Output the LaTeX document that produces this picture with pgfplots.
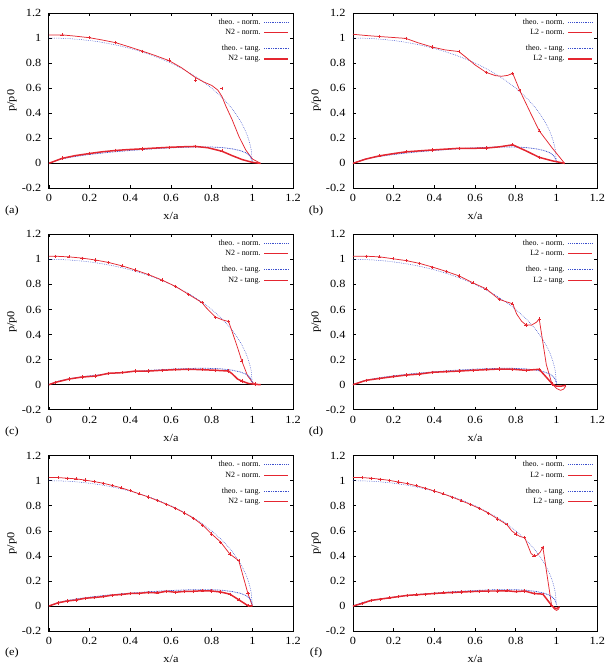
\documentclass[border=0pt]{standalone}
\usepackage{fontspec}
\setmainfont{Liberation Serif}
\newfontfamily\tickfont[FakeStretch=1.12]{Liberation Serif}
\usepackage{pgfplots}
\usepackage{pgfplotstable}
\pgfplotsset{compat=1.18}

\definecolor{simred}{RGB}{228,38,48}
\definecolor{theoblue}{RGB}{60,80,205}

% Hertz normal pressure
\pgfplotstableread{
x y
0 1.000
0.05 0.9987
0.1 0.995
0.15 0.9887
0.2 0.9798
0.25 0.9682
0.3 0.9539
0.35 0.9367
0.4 0.9165
0.45 0.8930
0.5 0.8660
0.55 0.8352
0.6 0.8000
0.65 0.7599
0.7 0.7141
0.75 0.6614
0.8 0.6000
0.85 0.5268
0.88 0.4750
0.9 0.4359
0.92 0.3919
0.94 0.3412
0.96 0.2800
0.97 0.2431
0.98 0.1990
0.99 0.1411
0.995 0.0999
1.0 0.0
}\theonorm

% theoretical tangential traction
\pgfplotstableread{
x y
0 0
0.05 0.030
0.1 0.047
0.15 0.060
0.2 0.071
0.3 0.089
0.4 0.103
0.5 0.115
0.6 0.124
0.7 0.130
0.75 0.131
0.8 0.130
0.85 0.126
0.9 0.116
0.94 0.102
0.97 0.083
0.99 0.055
1.0 0.015
}\theotang

\tikzset{tag/.style={font=\tickfont\fontsize{11}{11}\selectfont}}

\pgfplotsset{
  legend image code/.code={\draw[#1] (0pt,0pt) -- (24pt,0pt);},
  theonorm/.style={theoblue, line width=0.5pt, dash pattern=on 0.7pt off 1.1pt},
  theotang/.style={theoblue, line width=0.75pt, dash pattern=on 0.9pt off 0.8pt},
  simnorm/.style={simred, line width=0.75pt},
  simtang/.style={simred, line width=1.5pt},
  simmark/.style={only marks, mark=+, mark size=1.6pt, simred,
    mark options={line width=0.5pt}},
  zeroline/.style={black, line width=0.6pt},
  panel/.style={
    scale only axis, width=245pt, height=176pt,
    xmin=0, xmax=1.2, ymin=-0.2, ymax=1.2,
    clip mode=individual,
    xtick={0,0.2,0.4,0.6,0.8,1,1.2},
    ytick={-0.2,0,0.2,0.4,0.6,0.8,1,1.2},
    tick align=inside,
    major tick length=3pt,
    axis line style={line width=0.8pt},
    tick style={line width=0.6pt, black},
    /pgf/number format/assume math mode=true,
    ticklabel style={font=\tickfont\fontsize{11}{11}\selectfont},
    xticklabel style={yshift=-2.5pt},
    yticklabel style={xshift=-4pt},
    xlabel={x/a}, ylabel={p/p0},
    label style={font=\tickfont\fontsize{11}{11}\selectfont},
    xlabel style={at={(axis description cs:0.5,-0.159)}, anchor=center},
    ylabel style={at={(axis description cs:-0.151,0.5)}, anchor=center},
    legend style={draw=none, fill=none, at={(axis description cs:0.984,0.972)},
      anchor=north east, inner sep=0pt, row sep=2.5pt,
      font=\fontsize{8}{9}\selectfont,
      nodes={text height=6pt, text depth=2pt, inner sep=0pt, outer sep=0pt},
      /tikz/every odd column/.append style={column sep=3pt}},
    legend cell align=right, legend plot pos=right,
    every axis plot/.append style={forget plot},
  },
}

% legend of one panel; #1 is the method name (N2 or L2)
\newcommand{\panellegend}[1]{%
  \addlegendimage{theonorm}\addlegendentry{theo. - norm.}
  \addlegendimage{simnorm}\addlegendentry{#1 - norm.}
  \addlegendimage{empty legend}\addlegendentry[text height=2pt,text depth=1pt]{}
  \addlegendimage{theotang}\addlegendentry{theo. - tang.}
  \addlegendimage{simtang}\addlegendentry{#1 - tang.}
}

\begin{document}
\begin{tikzpicture}
\path (0pt,0pt) rectangle (609pt,666pt);

% (a) N2, coarse mesh
\begin{axis}[panel, at={(49pt,477pt)}, anchor=south west]
\panellegend{N2}
\addplot[zeroline] coordinates {(0,0) (1.2,0)};
\addplot[theonorm] table {\theonorm};
\addplot[simnorm] coordinates {(0,1.025)(0.065,1.025)(0.13,1.015)(0.197,1.003)(0.26,0.985)(0.328,0.963)(0.39,0.932)(0.46,0.895)(0.52,0.862)(0.59,0.82)(0.65,0.765)(0.72,0.685)(0.76,0.65)(0.8,0.622)(0.83,0.585)(0.85,0.535)(0.87,0.455)(0.9,0.35)(0.935,0.21)(0.968,0.105)(1.0,0.035)(1.04,0)};
\addplot[theotang] table {\theotang};
\addplot[simtang] coordinates {(0,0)(0.065,0.04)(0.13,0.062)(0.197,0.078)(0.26,0.092)(0.328,0.103)(0.39,0.11)(0.46,0.116)(0.52,0.122)(0.59,0.128)(0.65,0.132)(0.72,0.135)(0.78,0.125)(0.85,0.097)(0.9,0.062)(0.95,0.03)(1.0,0.008)(1.04,0)};
\addplot[simmark] coordinates {(0.065,1.025)(0.197,1.003)(0.328,0.965)(0.46,0.895)(0.59,0.825)(0.72,0.665)(0.85,0.6)};
\addplot[simmark] coordinates {(0.065,0.043)(0.197,0.08)(0.328,0.105)(0.46,0.115)(0.59,0.128)(0.72,0.136)(0.85,0.1)};
\node[tag] at (axis description cs:-0.151,-0.125) {(a)};
\end{axis}

% (b) L2, coarse mesh
\begin{axis}[panel, at={(354pt,477pt)}, anchor=south west]
\panellegend{L2}
\addplot[zeroline] coordinates {(0,0) (1.2,0)};
\addplot[theonorm] table {\theonorm};
\addplot[simnorm] coordinates {(0,1.03)(0.065,1.02)(0.13,1.012)(0.2,1.004)(0.26,0.997)(0.32,0.962)(0.39,0.928)(0.45,0.906)(0.52,0.892)(0.56,0.84)(0.6,0.785)(0.655,0.725)(0.7,0.7)(0.73,0.695)(0.76,0.702)(0.785,0.718)(0.82,0.58)(0.87,0.41)(0.915,0.26)(0.98,0.12)(1.04,0)};
\addplot[theotang] table {\theotang};
\addplot[simtang] coordinates {(0,0)(0.065,0.035)(0.13,0.06)(0.2,0.078)(0.26,0.092)(0.33,0.1)(0.39,0.107)(0.45,0.113)(0.52,0.12)(0.59,0.12)(0.655,0.122)(0.72,0.132)(0.785,0.148)(0.85,0.1)(0.915,0.048)(0.98,0.02)(1.04,0)};
\addplot[simmark] coordinates {(0.13,1.012)(0.26,0.997)(0.39,0.928)(0.52,0.892)(0.655,0.725)(0.785,0.718)(0.82,0.58)(0.915,0.26)};
\addplot[simmark] coordinates {(0.13,0.06)(0.26,0.092)(0.39,0.107)(0.52,0.12)(0.655,0.122)(0.785,0.148)(0.915,0.048)};
\node[tag] at (axis description cs:-0.151,-0.125) {(b)};
\end{axis}

% (c) N2, medium mesh
\begin{axis}[panel, at={(49pt,255pt)}, anchor=south west]
\panellegend{N2}
\addplot[zeroline] coordinates {(0,0) (1.2,0)};
\addplot[theonorm] table {\theonorm};
\addplot[simnorm] coordinates {(0,1.025)(0.033,1.025)(0.098,1.02)(0.163,1.01)(0.229,0.995)(0.294,0.975)(0.36,0.948)(0.425,0.915)(0.49,0.878)(0.556,0.835)(0.621,0.785)(0.687,0.72)(0.752,0.655)(0.772,0.616)(0.817,0.541)(0.853,0.517)(0.883,0.504)(0.902,0.416)(0.927,0.296)(0.948,0.189)(0.976,0.072)(1.0,0.019)(1.013,0.005)(1.04,0)};
\addplot[theotang] table {\theotang};
\addplot[simtang] coordinates {(0,0)(0.033,0.019)(0.098,0.045)(0.163,0.061)(0.229,0.069)(0.294,0.091)(0.36,0.096)(0.425,0.109)(0.49,0.109)(0.556,0.115)(0.621,0.12)(0.687,0.123)(0.752,0.12)(0.817,0.115)(0.883,0.109)(0.902,0.085)(0.927,0.045)(0.948,0.029)(0.98,0.01)(1.013,0.003)(1.04,0)};
\addplot[simmark] coordinates {(0.033,1.025)(0.098,1.02)(0.163,1.01)(0.229,0.995)(0.294,0.975)(0.36,0.948)(0.425,0.915)(0.49,0.878)(0.556,0.835)(0.621,0.785)(0.687,0.72)(0.752,0.655)(0.817,0.535)(0.883,0.507)(0.948,0.189)(1.013,0.005)};
\addplot[simmark] coordinates {(0.033,0.019)(0.098,0.045)(0.163,0.061)(0.229,0.069)(0.294,0.091)(0.36,0.096)(0.425,0.109)(0.49,0.109)(0.556,0.115)(0.621,0.12)(0.687,0.123)(0.752,0.12)(0.817,0.115)(0.883,0.109)(0.948,0.029)(1.013,0.003)};
\node[tag] at (axis description cs:-0.151,-0.125) {(c)};
\end{axis}

% (d) L2, medium mesh
\begin{axis}[panel, at={(354pt,255pt)}, anchor=south west]
\panellegend{L2}
\addplot[zeroline] coordinates {(0,0) (1.2,0)};
\addplot[theonorm] table {\theonorm};
\addplot[simnorm] coordinates {(0,1.025)(0.065,1.025)(0.131,1.02)(0.196,1.005)(0.262,0.99)(0.327,0.968)(0.392,0.938)(0.458,0.904)(0.523,0.867)(0.589,0.813)(0.654,0.765)(0.719,0.68)(0.785,0.645)(0.804,0.565)(0.828,0.507)(0.85,0.477)(0.877,0.475)(0.902,0.499)(0.915,0.525)(0.95,0.16)(0.977,0.01)(1.0,-0.03)(1.02,-0.045)(1.035,-0.035)(1.046,-0.01)};
\addplot[theotang] table {\theotang};
\addplot[simtang] coordinates {(0,0)(0.065,0.035)(0.131,0.05)(0.196,0.064)(0.262,0.077)(0.327,0.085)(0.392,0.099)(0.458,0.104)(0.523,0.109)(0.589,0.115)(0.654,0.12)(0.719,0.125)(0.785,0.123)(0.85,0.115)(0.915,0.123)(0.95,0.06)(0.98,0.005)(1.0,-0.012)(1.02,-0.012)(1.046,-0.005)};
\addplot[simmark] coordinates {(0.065,1.025)(0.131,1.02)(0.196,1.005)(0.262,0.99)(0.327,0.968)(0.392,0.938)(0.458,0.904)(0.523,0.867)(0.589,0.813)(0.654,0.765)(0.719,0.68)(0.785,0.645)(0.85,0.477)(0.915,0.525)(0.98,0.005)};
\addplot[simmark] coordinates {(0.065,0.035)(0.131,0.05)(0.196,0.064)(0.262,0.077)(0.327,0.085)(0.392,0.099)(0.458,0.104)(0.523,0.109)(0.589,0.115)(0.654,0.12)(0.719,0.125)(0.785,0.123)(0.85,0.115)(0.915,0.123)};
\node[tag] at (axis description cs:-0.151,-0.125) {(d)};
\end{axis}

% (e) N2, fine mesh
\begin{axis}[panel, at={(49pt,33pt)}, anchor=south west]
\panellegend{N2}
\addplot[zeroline] coordinates {(0,0) (1.2,0)};
\addplot[theonorm] table {\theonorm};
\addplot[simnorm] coordinates {(0,1.025)(0.044,1.025)(0.089,1.02)(0.133,1.015)(0.178,1.005)(0.222,0.993)(0.267,0.98)(0.311,0.962)(0.356,0.943)(0.4,0.92)(0.444,0.895)(0.489,0.87)(0.533,0.842)(0.578,0.812)(0.622,0.78)(0.667,0.742)(0.711,0.7)(0.756,0.645)(0.8,0.575)(0.844,0.51)(0.889,0.415)(0.933,0.362)(0.978,0.1)(1.0,0)};
\addplot[theotang] table {\theotang};
\addplot[simtang] coordinates {(0,0)(0.044,0.025)(0.089,0.04)(0.133,0.048)(0.178,0.062)(0.222,0.068)(0.267,0.075)(0.311,0.087)(0.356,0.092)(0.4,0.1)(0.444,0.102)(0.489,0.108)(0.533,0.105)(0.578,0.118)(0.622,0.11)(0.667,0.117)(0.711,0.118)(0.756,0.122)(0.8,0.12)(0.844,0.112)(0.889,0.095)(0.933,0.05)(0.978,0.003)(1.0,0)};
\addplot[simmark] coordinates {(0.044,1.025)(0.089,1.02)(0.133,1.015)(0.178,1.005)(0.222,0.993)(0.267,0.98)(0.311,0.962)(0.356,0.943)(0.4,0.92)(0.444,0.895)(0.489,0.87)(0.533,0.842)(0.578,0.812)(0.622,0.78)(0.667,0.742)(0.711,0.7)(0.756,0.645)(0.8,0.575)(0.844,0.51)(0.889,0.415)(0.933,0.362)(0.978,0.1)};
\addplot[simmark] coordinates {(0.044,0.025)(0.089,0.04)(0.133,0.048)(0.178,0.062)(0.222,0.068)(0.267,0.075)(0.311,0.087)(0.356,0.092)(0.4,0.1)(0.444,0.102)(0.489,0.108)(0.533,0.105)(0.578,0.118)(0.622,0.11)(0.667,0.117)(0.711,0.118)(0.756,0.122)(0.8,0.12)(0.844,0.112)(0.889,0.095)(0.933,0.05)(0.978,0.003)};
\node[tag] at (axis description cs:-0.151,-0.125) {(e)};
\end{axis}

% (f) L2, fine mesh
\begin{axis}[panel, at={(354pt,33pt)}, anchor=south west]
\panellegend{L2}
\addplot[zeroline] coordinates {(0,0) (1.2,0)};
\addplot[theonorm] table {\theonorm};
\addplot[simnorm] coordinates {(0,1.025)(0.044,1.025)(0.089,1.02)(0.133,1.012)(0.178,1.003)(0.222,0.99)(0.267,0.977)(0.311,0.96)(0.356,0.94)(0.4,0.918)(0.444,0.895)(0.489,0.868)(0.533,0.84)(0.578,0.81)(0.622,0.778)(0.667,0.74)(0.711,0.695)(0.756,0.65)(0.78,0.6)(0.8,0.575)(0.82,0.555)(0.844,0.545)(0.86,0.48)(0.875,0.42)(0.889,0.4)(0.905,0.405)(0.92,0.43)(0.933,0.47)(0.976,0.005)(0.99,-0.025)(1.0,-0.035)(1.01,-0.025)(1.015,-0.005)};
\addplot[theotang] table {\theotang};
\addplot[simtang] coordinates {(0,0)(0.044,0.02)(0.089,0.045)(0.133,0.055)(0.178,0.065)(0.222,0.075)(0.267,0.085)(0.311,0.09)(0.356,0.095)(0.4,0.1)(0.444,0.105)(0.489,0.108)(0.533,0.112)(0.578,0.115)(0.622,0.118)(0.667,0.12)(0.711,0.12)(0.756,0.122)(0.8,0.115)(0.844,0.12)(0.889,0.1)(0.933,0.095)(0.976,0.005)(0.99,-0.015)(1.0,-0.02)(1.013,-0.008)};
\addplot[simmark] coordinates {(0.044,1.025)(0.089,1.02)(0.133,1.012)(0.178,1.003)(0.222,0.99)(0.267,0.977)(0.311,0.96)(0.356,0.94)(0.4,0.918)(0.444,0.895)(0.489,0.868)(0.533,0.84)(0.578,0.81)(0.622,0.778)(0.667,0.74)(0.711,0.695)(0.756,0.65)(0.8,0.575)(0.844,0.545)(0.889,0.4)(0.933,0.47)(0.976,0.005)};
\addplot[simmark] coordinates {(0.044,0.02)(0.089,0.045)(0.133,0.055)(0.178,0.065)(0.222,0.075)(0.267,0.085)(0.311,0.09)(0.356,0.095)(0.4,0.1)(0.444,0.105)(0.489,0.108)(0.533,0.112)(0.578,0.115)(0.622,0.118)(0.667,0.12)(0.711,0.12)(0.756,0.122)(0.8,0.115)(0.844,0.12)(0.889,0.1)(0.933,0.095)(0.976,0.005)};
\node[tag] at (axis description cs:-0.151,-0.125) {(f)};
\end{axis}
\end{tikzpicture}
\end{document}
